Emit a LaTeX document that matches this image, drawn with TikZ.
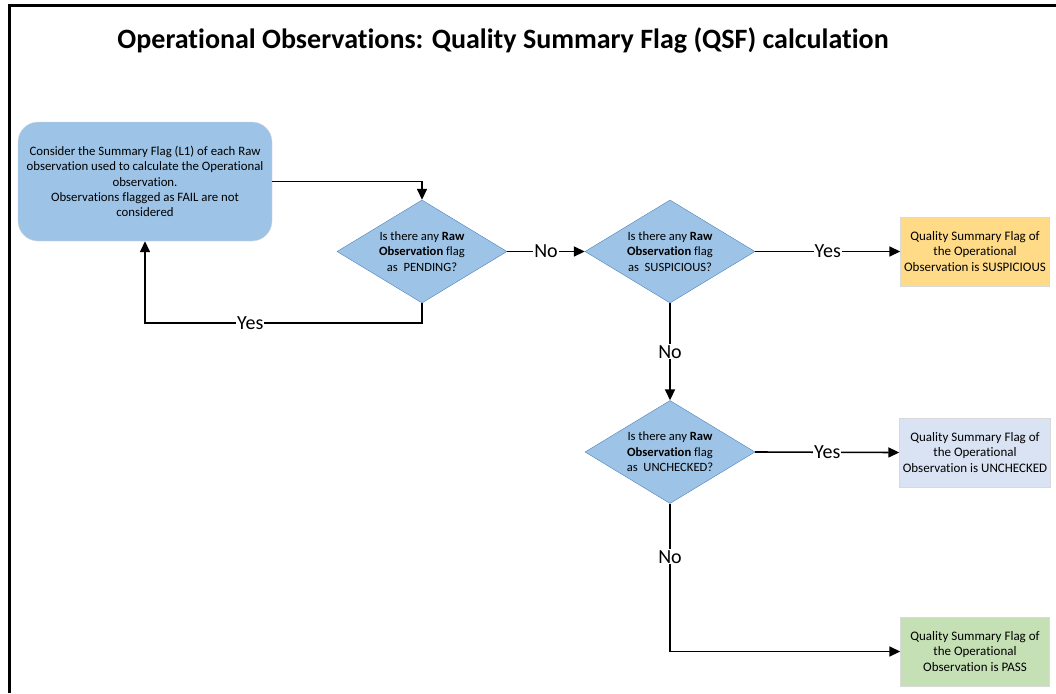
\documentclass[tikz,border=0pt]{standalone}
\usepackage{fontspec}
\setmainfont{Carlito}[Ligatures=NoCommon]
\usetikzlibrary{shapes.geometric,arrows.meta}
\definecolor{obsblue}{HTML}{9DC3E6}
\definecolor{obsedge}{HTML}{4F81BD}
\definecolor{suspyellow}{HTML}{FFDB88}
\definecolor{uncklilac}{HTML}{DAE3F3}
\definecolor{passgreen}{HTML}{C5E0B4}
\tikzset{
  startbox/.style={rectangle, rounded corners=20pt, draw=gray!30, fill=obsblue,
    minimum width=254pt, minimum height=119pt, align=center,
    font=\fontsize{12.8}{15.3}\selectfont},
  decision/.style={diamond, draw=obsedge, fill=obsblue, aspect=1.65, inner sep=0pt,
    minimum width=170pt, minimum height=103pt, align=center,
    font=\fontsize{12.6}{15.5}\selectfont},
  result/.style={rectangle, draw=gray!30, fill=#1, minimum width=149pt,
    minimum height=69pt, align=center, font=\fontsize{13}{15.5}\selectfont},
  flow/.style={line width=1.6pt, -{Triangle[length=11pt,width=10pt]}},
  answer/.style={fill=white, inner sep=1pt, font=\fontsize{20}{24}\selectfont}
}
\begin{document}
\begin{tikzpicture}[x=1pt,y=-1pt]
\useasboundingbox (0,0) rectangle (1056,693);
\draw[line width=3pt] (9.5,693) -- (9.5,5.5) -- (1056,5.5);
\node[font=\fontsize{28}{32}\selectfont\bfseries] (title) at (503,40)
  {Operational Observations: Quality Summary Flag (QSF) calculation};
\node[startbox] (start) at (145,181.5) {Consider the Summary Flag (L1) of each Raw\\
  observation used to calculate the Operational\\observation.\\
  Observations flagged as FAIL are not\\considered};
\node[decision] (dec1) at (422,251.5) {Is there any \textbf{Raw}\\\textbf{Observation} flag\\as~ PENDING?};
\node[decision] (dec2) at (670,251.5) {Is there any \textbf{Raw}\\\textbf{Observation} flag\\as~ SUSPICIOUS?};
\node[decision] (dec3) at (670,452) {Is there any \textbf{Raw}\\\textbf{Observation} flag\\as~ UNCHECKED?};
\node[result=suspyellow] (res1) at (975,251.5) {Quality Summary Flag of\\the Operational\\Observation is SUSPICIOUS};
\node[result=uncklilac] (res2) at (975,452.5) {Quality Summary Flag of\\the Operational\\Observation is UNCHECKED};
\node[result=passgreen] (res3) at (975,651.5) {Quality Summary Flag of\\the Operational\\Observation is PASS};
\coordinate (loop) at (422,323);
% connectors
\draw[flow] (start.east) -| (dec1.north);
\draw[flow] (dec1.south) -- (loop) -| node[answer, pos=0.31]{Yes} (start.south);
\draw[flow] (dec1.east) -- node[answer]{No} (dec2.west);
\draw[flow] (dec2.east) -- node[answer]{Yes} (res1.west);
\draw[flow] (dec2.south) -- node[answer]{No} (dec3.north);
\draw[flow] (dec3.east) -- node[answer]{Yes} (res2.west);
\draw[flow] (dec3.south) |- node[answer, pos=0.18]{No} (res3.west);
\end{tikzpicture}
\end{document}
